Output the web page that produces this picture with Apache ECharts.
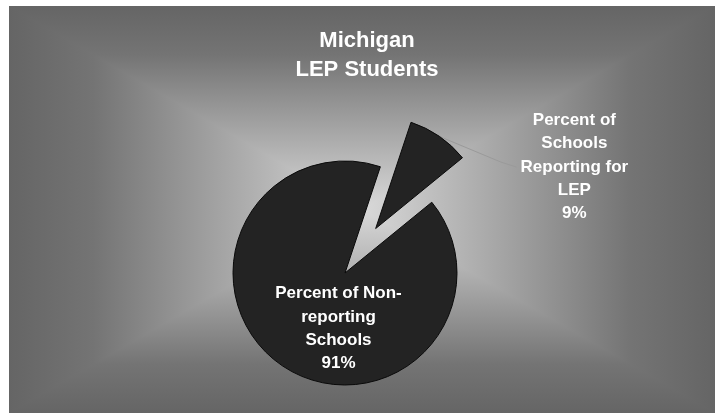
<!DOCTYPE html>
<html>
<head>
<meta charset="utf-8">
<script src="https://cdn.jsdelivr.net/npm/echarts@6/dist/echarts.min.js"></script>
<style>
html,body{margin:0;padding:0;background:#fff;}
#chart{width:715px;height:413px;}
</style>
</head>
<body>
<div id="chart"></div>
<script>
// ---- data ----
const titleLines = ['Michigan', 'LEP Students'];
const categories = ['Percent of Schools Reporting for LEP', 'Percent of Non-reporting Schools'];
const labelLines = [
  ['Percent of', 'Schools', 'Reporting for', 'LEP'],
  ['Percent of Non-', 'reporting', 'Schools']
];
const values = [9, 91];
const percentLabels = ['9%', '91%'];

const FONT = '"Liberation Sans", Arial, sans-serif';
const chart = echarts.init(document.getElementById('chart'), null, {renderer: 'canvas'});

function richLabel(i) {
  return labelLines[i].concat([percentLabels[i]]).map(s => '{a|' + s + '}').join('\n');
}

const seriesData = categories.map((name, i) => {
  const item = {name: name, value: values[i]};
  if (i === 0) {
    item.selected = true;
    item.label = {position: 'outside'};
    item.labelLine = {show: true, length: 4, length2: 70};
  } else {
    item.label = {position: 'inside'};
    item.labelLine = {show: false};
  }
  return item;
});

const bgRect = {x: 9, y: 6, width: 706, height: 407};
const grad = (x2, y2) => new echarts.graphic.LinearGradient(0, 0, x2, y2, [
  {offset: 0, color: '#656565'},
  {offset: 0.12, color: '#747474'},
  {offset: 0.5, color: '#d9d9d9'},
  {offset: 0.88, color: '#747474'},
  {offset: 1, color: '#656565'}
]);

const option = {
  backgroundColor: '#ffffff',
  animation: false,
  title: {
    text: titleLines.join('\n'),
    left: 362,
    top: 21,
    textAlign: 'center',
    textStyle: {
      color: '#ffffff', fontSize: 22, fontWeight: 'bold', fontFamily: FONT, lineHeight: 29
    }
  },
  graphic: [
    {type: 'rect', silent: true, z: -10, shape: bgRect, style: {fill: grad(1, 0)}},
    {type: 'rect', silent: true, z: -9, shape: bgRect, style: {fill: grad(0, 1), blend: 'darken'}}
  ],
  series: [{
    type: 'pie',
    center: [345, 273],
    radius: 112,
    startAngle: 71.6,
    clockwise: true,
    selectedMode: 'single',
    selectedOffset: 54,
    avoidLabelOverlap: false,
    emphasis: {disabled: true},
    itemStyle: {color: '#232323', borderColor: '#0a0a0a', borderWidth: 1},
    select: {itemStyle: {color: '#232323', borderColor: '#0a0a0a', borderWidth: 1}},
    label: {
      show: true,
      formatter: p => richLabel(p.dataIndex),
      distanceToLabelLine: 4,
      rich: {
        a: {align: 'center', color: '#ffffff', fontSize: 17, fontWeight: 'bold', fontFamily: FONT, lineHeight: 23.3}
      }
    },
    labelLine: {lineStyle: {color: '#9a9a9a', width: 1}},
    labelLayout: function (p) {
      if (p.dataIndex === 0) {
        const dx = 5, dy = 34;
        const r = p.labelRect;
        const pts = p.labelLinePoints;
        const out = {dx: dx, dy: dy};
        if (pts && pts.length) {
          const start = pts[0];
          const end = [r.x + dx - 4, r.y + r.height / 2 + dy];
          const mid = [start[0] + (end[0] - start[0]) * 0.8, start[1] + (end[1] - start[1]) * 0.84];
          out.labelLinePoints = [start, mid, end];
        }
        return out;
      }
      return {dx: 27, dy: 7};
    },
    data: seriesData
  }]
};
chart.setOption(option);
</script>
</body>
</html>
